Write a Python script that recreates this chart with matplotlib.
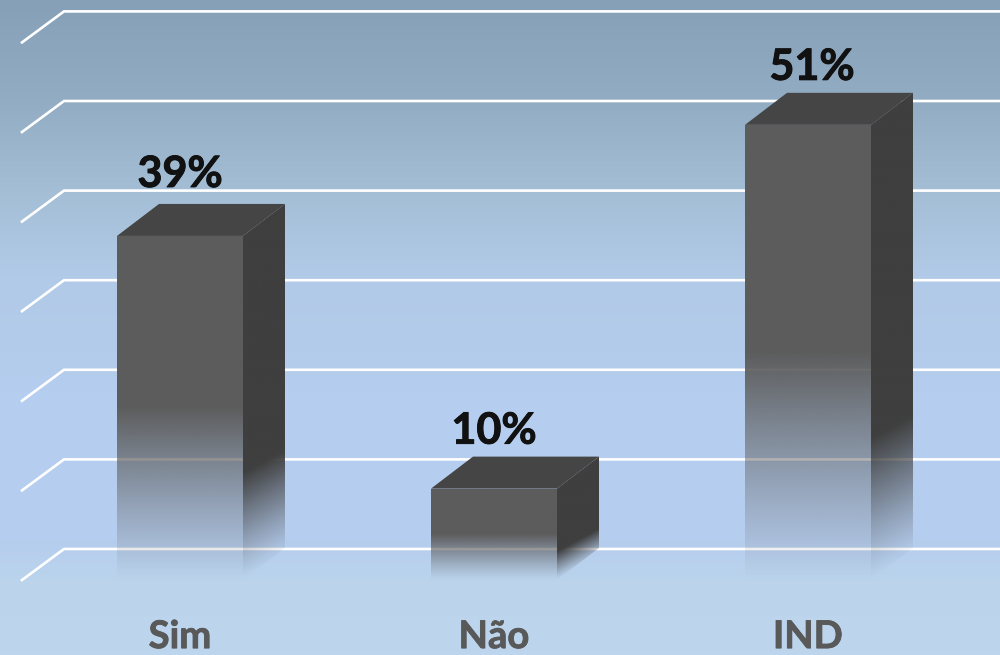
# 3d look column chart, Sim / Nao / IND
import numpy as np
import matplotlib
matplotlib.use('Agg')
import matplotlib.pyplot as plt
import matplotlib.patheffects as pe
from matplotlib.colors import LinearSegmentedColormap, to_rgb
from matplotlib.patches import Polygon

categories = ['Sim', 'Não', 'IND']
bar_labels = ['39%', '10%', '51%']
bar_heights = [38.4, 10.2, 50.8]
grid_values = [0, 10, 20, 30, 40, 50, 60]

# px scale of the reference
PX_X = 314.0
PX_Y = 8.96
x0 = -180.0 / PX_X
x1 = 820.0 / PX_X
y0 = -75.0 / PX_Y
y1 = 580.0 / PX_Y
bar_w = 126.0 / PX_X
dx = 42.0 / PX_X
dy = 32.0 / PX_Y
grid_dy = 31.0 / PX_Y
grid_left = -158.0 / PX_X

fig = plt.figure(figsize=(10, 6.55), dpi=100)
ax = fig.add_axes([0, 0, 1, 1])
ax.set_xlim(x0, x1)
ax.set_ylim(y0, y1)
ax.axis('off')

# background, top to bottom
bg_cmap = LinearSegmentedColormap.from_list('bg', [
    (0.00, '#86a0b7'), (0.15, '#92acc3'), (0.30, '#a5bfd7'), (0.42, '#b1cae7'),
    (0.60, '#b5cdee'), (0.825, '#b5cdee'), (0.89, '#bbd4ec'), (1.00, '#bdd6ee')])
ax.imshow(np.linspace(0, 1, 655).reshape(-1, 1), cmap=bg_cmap, aspect='auto',
          extent=[x0, x1, y0, y1], origin='upper', zorder=0)

# grid, back wall plus the stub on the side wall
for v in grid_values:
    ax.plot([grid_left, grid_left + dx, x1], [v, v + grid_dy, v + grid_dy], color='white',
            lw=1.9, solid_joinstyle='miter', zorder=1)


def fade_alpha(h):
    # solid in the upper half, fades out to nothing in the lower half
    return np.clip(h, 0, 1) ** 1.15


def draw_face(pts, color, alpha_fn, z):
    xs = [p[0] for p in pts]
    ys = [p[1] for p in pts]
    ext = [min(xs), max(xs), min(ys), max(ys)]
    gx, gy = np.meshgrid(np.linspace(ext[0], ext[1], 120), np.linspace(ext[2], ext[3], 500))
    img = np.zeros(gx.shape + (4,))
    img[..., :3] = to_rgb(color)
    img[..., 3] = alpha_fn(gx, gy)
    im = ax.imshow(img, extent=ext, origin='lower', aspect='auto', zorder=z, interpolation='bilinear')
    im.set_clip_path(Polygon(pts, closed=True, transform=ax.transData))


bold = [pe.withStroke(linewidth=0.7, foreground='#111111')]
bold_cat = [pe.withStroke(linewidth=0.6, foreground='#595959')]

for i, h in enumerate(bar_heights):
    left = i - bar_w / 2
    right = i + bar_w / 2
    fade_h = h * 0.5

    draw_face([(left, 0), (right, 0), (right, h), (left, h)], '#5c5c5c',
              lambda gx, gy: fade_alpha(gy / fade_h), 3)
    # side face fades along its sheared floor edge
    draw_face([(right, 0), (right + dx, dy), (right + dx, h + dy), (right, h)], '#3f3f3f',
              lambda gx, gy: fade_alpha((gy - 0.7 * (gx - right) / dx * dy) / (fade_h * 0.62)), 3)
    ax.add_patch(Polygon([(left, h), (right, h), (right + dx, h + dy), (left + dx, h + dy)],
                         closed=True, fc='#454545', ec='none', zorder=3))

    # labels do not sit at the same distance above each bar in the reference
    nudge_x = 4.0 / PX_X if i == 2 else 0.0
    nudge_y = 4.0 / PX_Y if i == 0 else 0.0
    ax.text(i + nudge_x, h + dy + 1.45 + nudge_y, bar_labels[i], ha='center', va='baseline',
            family='Lato', weight='bold', fontsize=31, color='#111111', zorder=5,
            path_effects=bold)
    ax.text(i, -7.6, categories[i], ha='center', va='baseline', family='Lato',
            weight='bold', fontsize=27.5, color='#595959', zorder=5,
            path_effects=bold_cat)

fig.savefig('out.png', dpi=100)
